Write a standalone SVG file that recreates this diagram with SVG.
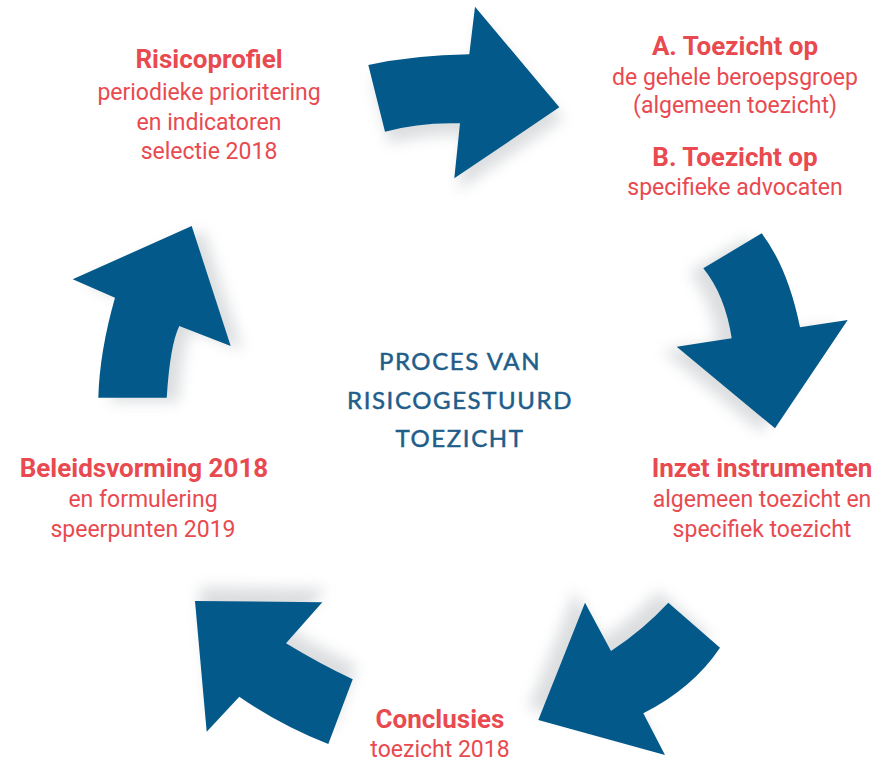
<svg xmlns="http://www.w3.org/2000/svg" width="890" height="763" viewBox="0 0 890 763">
<style>
.arrow{fill:#02598a}
.shadow{fill:#9aa0a6;opacity:0.35}
.h{font-family:Roboto,"Liberation Sans",sans-serif;font-weight:bold;font-size:26px;fill:#e84a50;text-anchor:middle}
.t{font-family:Roboto,"Liberation Sans",sans-serif;font-size:23px;fill:#e84a50;text-anchor:middle}
.c{font-family:Lato,"Liberation Sans",sans-serif;font-size:24px;fill:#1f5d8a;stroke:#1f5d8a;stroke-width:0.5px;text-anchor:middle;letter-spacing:1.6px}
</style>
<defs>
<filter id="blur" x="-30%" y="-30%" width="160%" height="160%"><feGaussianBlur stdDeviation="7"/></filter>
</defs>
<rect width="890" height="763" fill="#ffffff"/>
<g id="connectors">
<g id="arrow1">
<path class="shadow" filter="url(#blur)" transform="translate(4,12)" d="M368.3,65 Q415,55 469.3,54.3 L475,6.7 L559.3,107.3 L454.3,178.3 L460,123.3 Q420,122 385,131.7 Z"/>
<path class="arrow" d="M368.3,65 Q415,55 469.3,54.3 L475,6.7 L559.3,107.3 L454.3,178.3 L460,123.3 Q420,122 385,131.7 Z"/>
</g>
<g id="arrow2">
<path class="shadow" filter="url(#blur)" transform="translate(-14,4)" d="M703.3,268.3 L761.7,233.3 Q788,268 800,327.3 L847.7,320 L775,428.3 L676.7,346.7 L731.7,338.3 Q725,295 703.3,268.3 Z"/>
<path class="arrow" d="M703.3,268.3 L761.7,233.3 Q788,268 800,327.3 L847.7,320 L775,428.3 L676.7,346.7 L731.7,338.3 Q725,295 703.3,268.3 Z"/>
</g>
<g id="arrow3">
<path class="shadow" filter="url(#blur)" transform="translate(-10,-12)" d="M720,647.7 Q693,688 643.3,713.3 L665,755 L538.3,720 L585,602.7 L611,651 Q643,630 668.3,602.7 Z"/>
<path class="arrow" d="M720,647.7 Q693,688 643.3,713.3 L665,755 L538.3,720 L585,602.7 L611,651 Q643,630 668.3,602.7 Z"/>
</g>
<g id="arrow4">
<path class="shadow" filter="url(#blur)" transform="translate(4,-14)" d="M352.7,679.3 L328.3,744 Q280,725 239.3,696.7 L206.7,731.7 L195,601 L322.3,602.3 L286,643.3 Q320,664 352.7,679.3 Z"/>
<path class="arrow" d="M352.7,679.3 L328.3,744 Q280,725 239.3,696.7 L206.7,731.7 L195,601 L322.3,602.3 L286,643.3 Q320,664 352.7,679.3 Z"/>
</g>
<g id="arrow5">
<path class="shadow" filter="url(#blur)" transform="translate(12,4)" d="M98.3,397.7 L166.7,397.7 Q170,345 179.3,326 L230.7,346 L191.7,226 L72.7,279.3 L115,297.7 Q99.5,352 98.3,397.7 Z"/>
<path class="arrow" d="M98.3,397.7 L166.7,397.7 Q170,345 179.3,326 L230.7,346 L191.7,226 L72.7,279.3 L115,297.7 Q99.5,352 98.3,397.7 Z"/>
</g>
</g>
<g id="center">
<text class="c" x="460" y="370">PROCES VAN</text>
<text class="c" x="460" y="409">RISICOGESTUURD</text>
<text class="c" x="460" y="447">TOEZICHT</text>
</g>
<g id="risicoprofiel">
<text class="h" x="209" y="68">Risicoprofiel</text>
<text class="t" x="209" y="100">periodieke prioritering</text>
<text class="t" x="209" y="130">en indicatoren</text>
<text class="t" x="209" y="159">selectie 2018</text>
</g>
<g id="toezicht">
<text class="h" x="735" y="55">A. Toezicht op</text>
<text class="t" x="735" y="85">de gehele beroepsgroep</text>
<text class="t" x="735" y="113">(algemeen toezicht)</text>
<text class="h" x="735" y="166">B. Toezicht op</text>
<text class="t" x="735" y="195">specifieke advocaten</text>
</g>
<g id="inzet">
<text class="h" x="762" y="477">Inzet instrumenten</text>
<text class="t" x="762" y="507">algemeen toezicht en</text>
<text class="t" x="762" y="537">specifiek toezicht</text>
</g>
<g id="conclusies">
<text class="h" x="440" y="728">Conclusies</text>
<text class="t" x="440" y="757">toezicht 2018</text>
</g>
<g id="beleidsvorming">
<text class="h" x="144" y="477">Beleidsvorming 2018</text>
<text class="t" x="143" y="507">en formulering</text>
<text class="t" x="143" y="537">speerpunten 2019</text>
</g>
</svg>
